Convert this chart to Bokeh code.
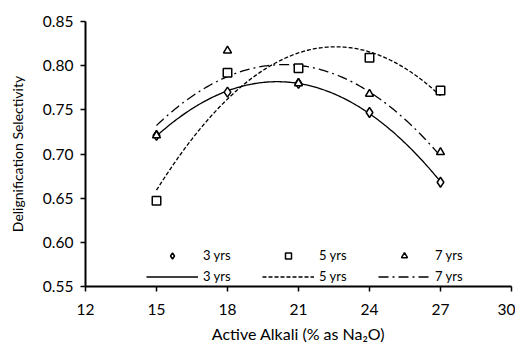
import numpy as np
from bokeh.plotting import figure
from bokeh.models import Range1d, FixedTicker, Legend, LegendItem, NumeralTickFormatter
from bokeh.embed import file_html
from bokeh.resources import INLINE

x_vals = [15, 18, 21, 24, 27]
y_3yrs = [0.721, 0.770, 0.780, 0.747, 0.668]
y_5yrs = [0.647, 0.792, 0.797, 0.809, 0.772]
y_7yrs = [0.721, 0.817, 0.780, 0.768, 0.702]
series_names = ["3 yrs", "5 yrs", "7 yrs"]
x_ticks = [12, 15, 18, 21, 24, 27, 30]
y_ticks = [0.55, 0.60, 0.65, 0.70, 0.75, 0.80, 0.85]

FONT = "Lato"

p = figure(width=515, height=345, output_backend="svg", toolbar_location=None,
           x_range=Range1d(12, 30), y_range=Range1d(0.55, 0.85),
           min_border_left=85, min_border_right=4, min_border_top=21, min_border_bottom=51)
p.outline_line_color = None
p.xgrid.visible = False
p.ygrid.visible = False
p.background_fill_color = "white"

for ax in (p.xaxis[0], p.yaxis[0]):
    ax.axis_line_width = 2
    ax.axis_line_color = "black"
    ax.major_tick_line_color = "black"
    ax.major_tick_line_width = 1.5
    ax.major_tick_out = 5
    ax.major_tick_in = 0
    ax.minor_tick_line_color = None
    ax.major_label_text_font = FONT
    ax.major_label_text_font_size = "15.5px"
    ax.major_label_text_color = "black"
    ax.axis_label_text_font = FONT
    ax.axis_label_text_font_style = "normal"
    ax.axis_label_text_color = "black"

p.xaxis.axis_label_text_font_size = "16px"
p.yaxis.axis_label_text_font_size = "14px"
p.xaxis.ticker = FixedTicker(ticks=x_ticks)
p.yaxis.ticker = FixedTicker(ticks=y_ticks)
p.yaxis.formatter = NumeralTickFormatter(format="0.00")
p.xaxis.axis_label = "Active Alkali (% as Na\u2082O)"
p.yaxis.axis_label = "Delignification Selectivity"
p.xaxis.major_label_standoff = 12
p.yaxis.major_label_standoff = 7
p.xaxis.axis_label_standoff = 6
p.yaxis.axis_label_standoff = 14

# trend lines (quadratic fits of the data)
xs = np.linspace(x_vals[0], x_vals[-1], 200)
dashes = ["solid", "4 2", "10 4 2 4"]
line_renderers = []
for ys, dash in zip([y_3yrs, y_5yrs, y_7yrs], dashes):
    c = np.polyfit(x_vals, ys, 2)
    r = p.line(xs, np.polyval(c, xs), line_color="black", line_width=1.3, line_dash=dash)
    line_renderers.append(r)

m3 = p.scatter(x_vals, y_3yrs, marker="diamond", size=10, fill_color="white",
               line_color="black", line_width=1.5)
m5 = p.scatter(x_vals, y_5yrs, marker="square", size=8.5, fill_color="white",
               line_color="black", line_width=1.5)
m7 = p.scatter(x_vals, y_7yrs, marker="triangle", size=8, fill_color="white",
               line_color="black", line_width=1.5)

items = [LegendItem(label=series_names[0], renderers=[m3]),
         LegendItem(label=series_names[1], renderers=[m5]),
         LegendItem(label=series_names[2], renderers=[m7]),
         LegendItem(label=series_names[0], renderers=[line_renderers[0]]),
         LegendItem(label=series_names[1], renderers=[line_renderers[1]]),
         LegendItem(label=series_names[2], renderers=[line_renderers[2]])]
legend = Legend(items=items, orientation="horizontal", ncols=3, location=(61, 2),
                background_fill_alpha=0, border_line_color=None,
                glyph_width=52, glyph_height=15, label_standoff=5, label_width=54,
                spacing=5, padding=2, margin=0,
                label_text_font=FONT, label_text_font_size="13px", label_text_color="black")
p.add_layout(legend, "center")

open("out.html", "w").write(file_html(p, INLINE))
